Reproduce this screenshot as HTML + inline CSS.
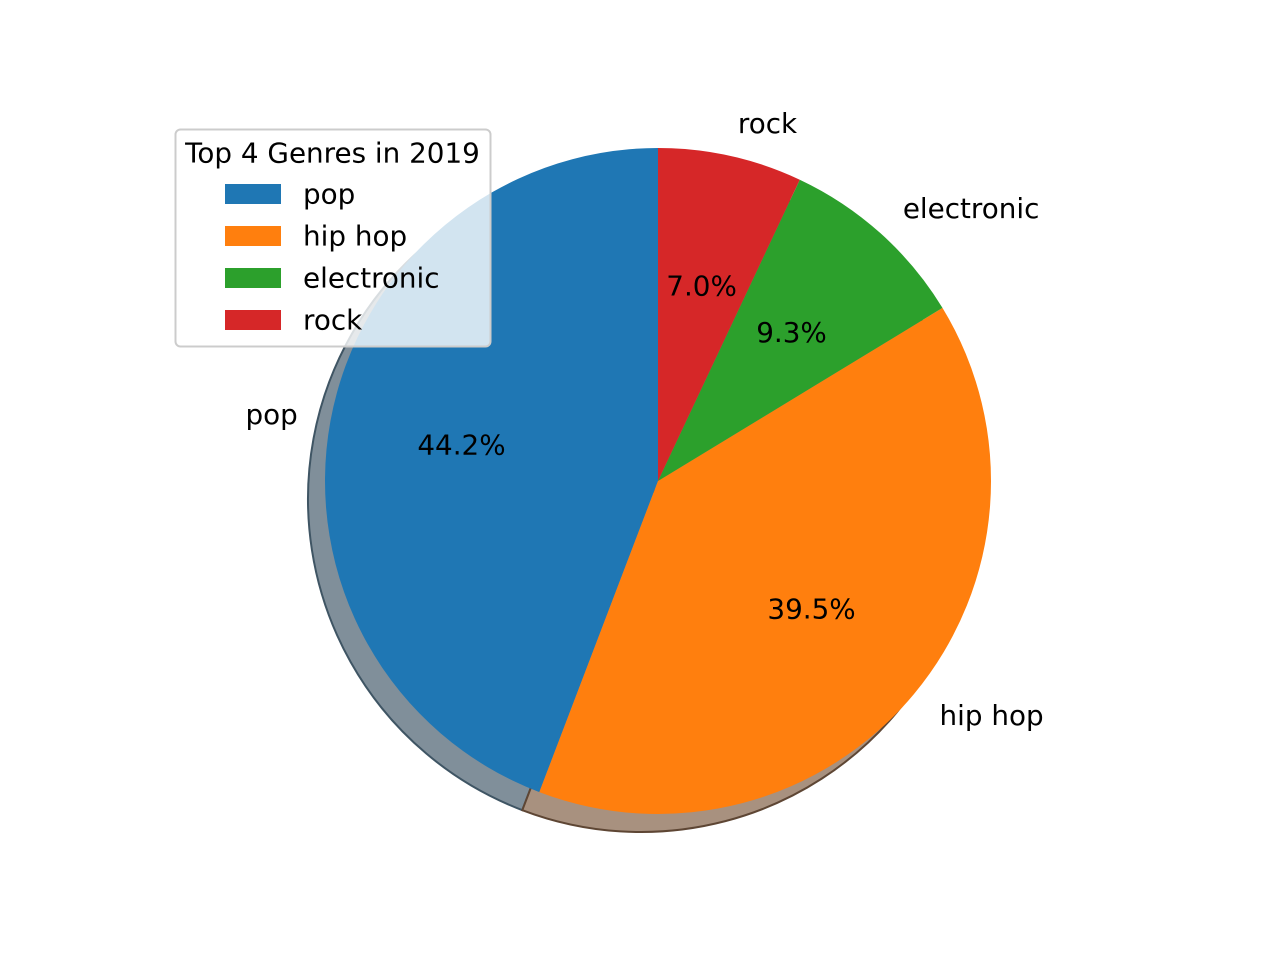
<!DOCTYPE html>
<html><head><meta charset="utf-8">
<style>
html,body{margin:0;padding:0;background:#fff;}
svg{display:block;font-family:"DejaVu Sans","Liberation Sans",sans-serif;}
</style></head>
<body>
<svg id="chart" width="1280" height="960" viewBox="0 0 1280 960" xmlns="http://www.w3.org/2000/svg">
<rect width="1280" height="960" fill="#fff"/>
<g id="shadows"></g>
<g id="wedges"></g>
<g id="labels"></g>
<g id="legend"></g>
</svg>
<script>
const categories = ["pop", "hip hop", "electronic", "rock"];
const values = [44.2, 39.5, 9.3, 7.0];
const colors = ["#1f77b4", "#ff7f0e", "#2ca02c", "#d62728"];
const shadowColors = ["#808f9a", "#a8917f", "#7f9a7f", "#9a7f7f"];
const shadowEdges = ["#3f5564", "#5e4634", "#345034", "#503434"];
const legendTitle = "Top 4 Genres in 2019";

const NS = "http://www.w3.org/2000/svg";
const cx = 658, cy = 481, R = 333;
const sdx = -17, sdy = 18;
const FS = 27.8;
const total = values.reduce((a, b) => a + b, 0);

function mk(tag, attrs, parent) {
  const e = document.createElementNS(NS, tag);
  for (const k in attrs) e.setAttribute(k, attrs[k]);
  parent.appendChild(e);
  return e;
}
function pt(x0, y0, r, deg) {
  const a = deg * Math.PI / 180;
  return [x0 + r * Math.cos(a), y0 - r * Math.sin(a)];
}
function wedgePath(x0, y0, r, a1, a2) {
  const p1 = pt(x0, y0, r, a1), p2 = pt(x0, y0, r, a2);
  const large = (a2 - a1) > 180 ? 1 : 0;
  return `M${x0},${y0} L${p1[0]},${p1[1]} A${r},${r} 0 ${large} 0 ${p2[0]},${p2[1]} Z`;
}

const shadowG = document.getElementById("shadows");
const wedgeG = document.getElementById("wedges");
const labelG = document.getElementById("labels");

let start = 90;
values.forEach((v, i) => {
  const sweep = v / total * 360;
  const end = start + sweep;
  const mid = (start + end) / 2;
  const s = mk("path", {d: wedgePath(cx + sdx, cy + sdy, R, start, end), fill: shadowColors[i], stroke: shadowEdges[i], "stroke-width": 2}, shadowG);
  
  
  const w = mk("path", {d: wedgePath(cx, cy, R, start, end), fill: colors[i]}, wedgeG);
  
  
  const lp = pt(cx, cy, R * 1.1, mid);
  const cosm = Math.cos(mid * Math.PI / 180);
  const t = mk("text", {x: lp[0], y: lp[1], "font-size": FS, fill: "#000", "text-anchor": cosm < 0 ? "end" : "start", "dominant-baseline": "central"}, labelG);
  t.textContent = categories[i];
  
  
  const pp = pt(cx, cy, R * 0.6, mid);
  const p = mk("text", {x: pp[0], y: pp[1], "font-size": FS, fill: "#000", "text-anchor": "middle", "dominant-baseline": "central"}, labelG);
  p.textContent = (v / total * 100).toFixed(1) + "%";
  
  
  start = end;
});

const legG = document.getElementById("legend");
const box = mk("rect", {x: 175.5, y: 129.5, width: 315, height: 217, rx: 5, fill: "#fff", "fill-opacity": 0.8, stroke: "#cccccc", "stroke-width": 2}, legG);


const lt = mk("text", {x: 332.5, y: 153, "font-size": FS, "text-anchor": "middle", "dominant-baseline": "central", fill: "#000"}, legG);
lt.textContent = legendTitle;


categories.forEach((c, i) => {
  const y = 194 + i * 42;
  const r = mk("rect", {x: 225, y: y - 10, width: 56, height: 20, fill: colors[i]}, legG);
  
  
  const t = mk("text", {x: 303, y: y, "font-size": FS, "dominant-baseline": "central", fill: "#000"}, legG);
  t.textContent = c;
  
  
});
</script>
</body></html>
